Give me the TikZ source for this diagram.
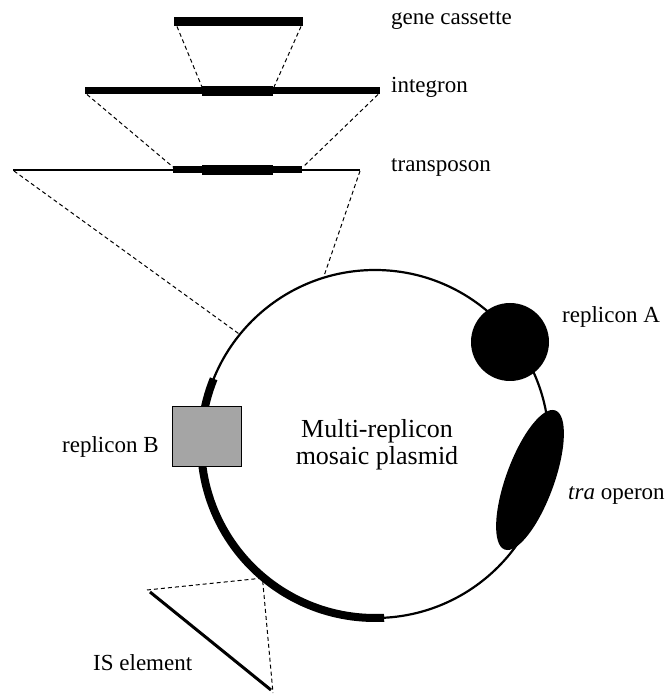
\documentclass[tikz,border=0pt]{standalone}
\usepackage{fontspec}
\setmainfont{Liberation Serif}
\usetikzlibrary{shapes.geometric}
\definecolor{boxgray}{RGB}{165,165,165}
\tikzset{
  bar/.style={line width=#1},
  thinline/.style={line width=1.6pt},
  dashline/.style={line width=1pt, dash pattern=on 4pt off 3pt},
  lbl/.style={anchor=base west, inner sep=0pt, font=\fontsize{23}{27}\selectfont},
  blob/.style={fill=black, inner sep=0pt}
}
\begin{document}
\begin{tikzpicture}[x=1pt, y=1pt]
  \useasboundingbox (0,0) rectangle (671,696);
  % nested elements at the top
  \coordinate (gc-l) at (174,674);
  \coordinate (gc-r) at (303,674);
  \coordinate (in-l) at (85,605);
  \coordinate (in-r) at (380,605);
  \coordinate (in-ml) at (202,605);
  \coordinate (in-mr) at (273,605);
  \coordinate (tn-l) at (13,526);
  \coordinate (tn-r) at (360,526);
  \coordinate (tn-bl) at (173,526);
  \coordinate (tn-br) at (302,526);
  \coordinate (tn-ml) at (202,526);
  \coordinate (tn-mr) at (273,526);
  \draw[bar=9pt] (gc-l) -- (gc-r);
  \draw[bar=7pt] (in-l) -- (in-r);
  \draw[bar=10pt] (in-ml) -- (in-mr);
  \draw[thinline] (tn-l) -- (tn-r);
  \draw[bar=7pt] (tn-bl) -- (tn-br);
  \draw[bar=10pt] (tn-ml) -- (tn-mr);
  \draw[dashline] ([xshift=3pt,yshift=-4.5pt]gc-l) -- ([yshift=4pt]in-ml);
  \draw[dashline] ([xshift=-2pt,yshift=-4.5pt]gc-r) -- ([xshift=1pt,yshift=4pt]in-mr);
  \draw[dashline] ([xshift=2pt,yshift=-3.5pt]in-l) -- ([yshift=3pt]tn-bl);
  \draw[dashline] ([xshift=-2pt,yshift=-3.5pt]in-r) -- ([xshift=1pt,yshift=3pt]tn-br);

  % the plasmid
  \node[circle, draw, line width=2.2pt, minimum size=348pt, inner sep=0pt] (plasmid) at (375,252) {};
  \draw[line width=8pt] ([shift={(158:174pt)}]plasmid.center) arc[start angle=158, end angle=273, radius=174pt];
  \draw[dashline] ([xshift=1pt,yshift=-1pt]tn-l) -- (plasmid.141.5);
  \draw[dashline] ([yshift=-1pt]tn-r) -- (plasmid.107.4);

  % IS element
  \coordinate (is-l) at (147,106);
  \coordinate (is-b) at (273,3);
  \coordinate (is-s1) at (150,104);
  \coordinate (is-s2) at (271,6);
  \draw[dashline] (is-l) -- (plasmid.230.5) -- (is-b);
  \draw[line width=3pt] (is-s1) -- (is-s2);

  \node[blob, circle, minimum size=78pt] (repA) at (510,354) {};
  \node[blob, ellipse, minimum width=148pt, minimum height=48pt, rotate=70] (tra) at (530,216) {};
  \node[draw, fill=boxgray, line width=0.8pt, minimum width=69pt, minimum height=60pt, inner sep=0pt] (repB) at (206.5,260) {};

  \node[lbl] (gc-lbl) at (391,671) {gene cassette};
  \node[lbl] (in-lbl) at (391,603) {integron};
  \node[lbl] (tn-lbl) at (391,524) {transposon};
  \node[lbl] (repA-lbl) at (562,373) {replicon A};
  \node[lbl] (tra-lbl) at (568,196) {\textit{tra} operon};
  \node[lbl] (repB-lbl) at (62,243) {replicon B};
  \node[lbl] (is-lbl) at (93,25) {IS element};
  \node[align=center, inner sep=0pt, font=\fontsize{26}{27}\selectfont] (title) at (377,251) {Multi-replicon\\mosaic plasmid};
\end{tikzpicture}
\end{document}
